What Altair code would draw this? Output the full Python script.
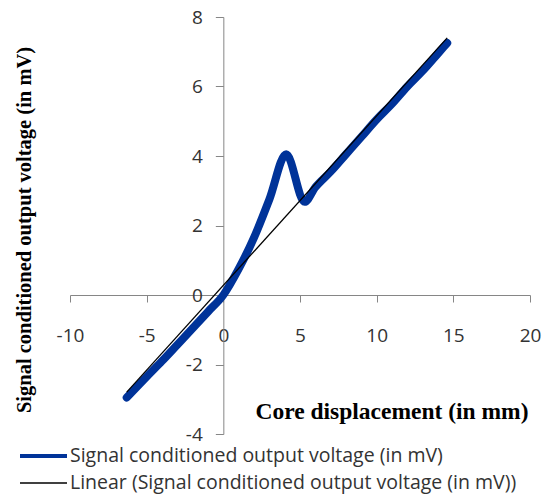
import altair as alt
import pandas as pd

# Core displacement (mm) and signal conditioned LVDT output (mV)
displacement = [-6.3, -5, -4, -3, -2, -1, 0, 1, 2, 3, 4.1, 5.3, 6, 7,
                8, 9, 10, 11, 12, 13, 14, 14.6]
output_mv = [-2.95, -2.35, -1.9, -1.43, -0.96, -0.48, 0.0, 0.75, 1.65, 2.75,
             4.05, 2.68, 3.1, 3.55, 4.05, 4.55, 5.05, 5.5, 6.0, 6.45, 6.95, 7.25]

series_name = "Signal conditioned output voltage  (in mV)"
trend_name = "Linear (Signal conditioned output voltage  (in mV))"
x_ticks = [-10, -5, 0, 5, 10, 15, 20]
y_ticks = [-4, -2, 0, 2, 4, 6, 8]
x_title = "Core displacement (in mm)"
y_title = "Signal conditioned output voltage  (in mV)"

SIGNAL_COLOR = "#003399"
TREND_COLOR = "#000000"

W, H = 460, 417
X_DOM, Y_DOM = [-10, 20], [-4, 8]

df = pd.DataFrame({"x": displacement, "y": output_mv})

# axes cross at the origin: shift them into the plot by the zero position
x_off = -H * (0 - Y_DOM[0]) / (Y_DOM[1] - Y_DOM[0])
y_off = -W * (0 - X_DOM[0]) / (X_DOM[1] - X_DOM[0])

LABEL_FONT = "Open Sans"
TITLE_FONT = "Liberation Serif"

x_enc = alt.X("x:Q", scale=alt.Scale(domain=X_DOM, nice=False, zero=False),
              axis=alt.Axis(values=x_ticks, offset=x_off, title=None, grid=False,
                            tickSize=7, labelPadding=24, labelFlush=False,
                            labelExpr="'' + datum.value",
                            labelFont=LABEL_FONT, labelFontSize=19, labelColor="#333333",
                            domainColor="#868686", tickColor="#868686"))
y_enc = alt.Y("y:Q", scale=alt.Scale(domain=Y_DOM, nice=False, zero=False),
              axis=alt.Axis(values=y_ticks, offset=y_off, title=None, grid=False,
                            tickSize=8, labelPadding=13, labelFlush=False,
                            labelExpr="'' + datum.value",
                            labelFont=LABEL_FONT, labelFontSize=19, labelColor="#333333",
                            domainColor="#868686", tickColor="#868686"))

base = alt.Chart(df)

signal = base.mark_line(
    interpolate="monotone", strokeCap="round", strokeJoin="round",
    color=SIGNAL_COLOR, strokeWidth=8
).encode(x=x_enc, y=y_enc)

trend = base.transform_regression("x", "y").mark_line(
    color=TREND_COLOR, strokeWidth=1.3
).encode(x="x:Q", y="y:Q")

xt = alt.Chart(pd.DataFrame({"t": [x_title]})).mark_text(
    font=TITLE_FONT, fontWeight="bold", fontSize=23.5, color="#000000",
    align="center", baseline="middle"
).encode(x=alt.value(322), y=alt.value(395), text="t:N")

yt = alt.Chart(pd.DataFrame({"t": [y_title]})).mark_text(
    font=TITLE_FONT, fontWeight="bold", fontSize=20.5, color="#000000",
    align="center", baseline="middle", angle=270
).encode(x=alt.value(-45), y=alt.value(213), text="t:N")


def legend_entry(name, color, width, y):
    swatch = alt.Chart(pd.DataFrame({"s": [name]})).mark_rule(
        color=color, strokeWidth=width
    ).encode(x=alt.value(-50), x2=alt.value(-3), y=alt.value(y))
    label = alt.Chart(pd.DataFrame({"s": [name]})).mark_text(
        font=LABEL_FONT, fontSize=19.5, color="#333333", align="left", baseline="middle"
    ).encode(x=alt.value(0), y=alt.value(y), text="s:N")
    return swatch + label


legend = legend_entry(series_name, SIGNAL_COLOR, 4, 439) + \
    legend_entry(trend_name, TREND_COLOR, 1.5, 466)

chart = alt.layer(signal, trend, xt, yt, legend).properties(
    width=W, height=H,
    autosize=alt.AutoSizeParams(type="none"),
    padding={"left": 70, "top": 17, "right": 20, "bottom": 63},
    background="white",
).configure_view(stroke=None)

chart.save("out.html", embed_options={"renderer": "svg", "actions": False})
